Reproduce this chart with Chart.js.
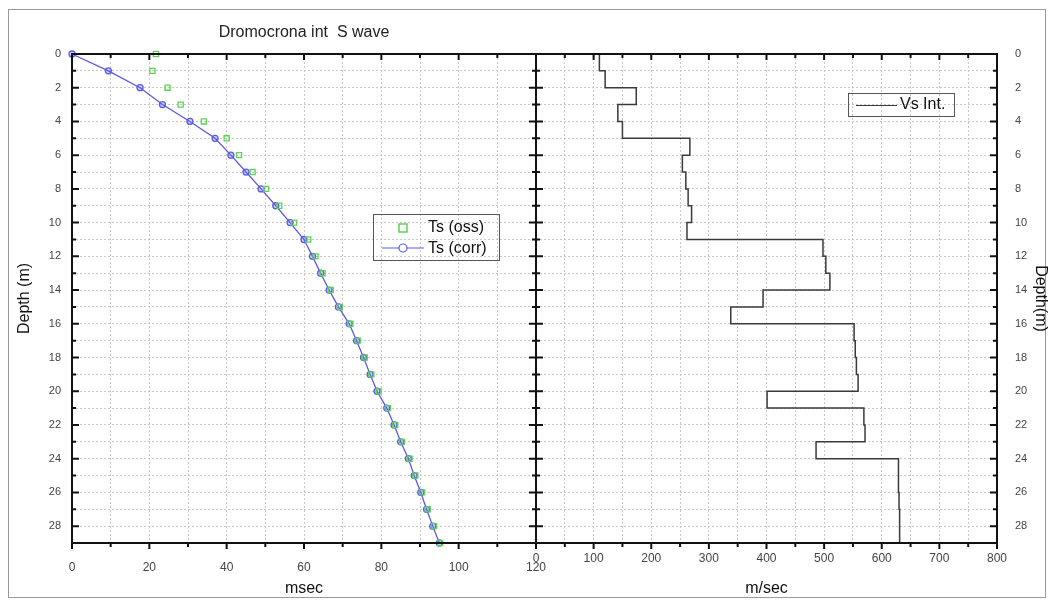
<!DOCTYPE html>
<html>
<head>
<meta charset="utf-8">
<script src="https://cdn.jsdelivr.net/npm/chart.js@4"></script>
<style>
  html, body { margin: 0; padding: 0; background: #fff; }
  #wrap { position: relative; width: 1054px; height: 608px; }
</style>
</head>
<body>
<div id="wrap"><canvas id="dromo" width="1054" height="608"></canvas></div>
<script>
// depth of each reading (m)
const depths = [0,1,2,3,4,5,6,7,8,9,10,11,12,13,14,15,16,17,18,19,20,21,22,23,24,25,26,27,28,29];
// observed S travel time (msec)
const tsOss = [21.7,20.8,24.7,28.1,34.1,40.0,43.2,46.7,50.2,53.6,57.4,61.1,63.0,64.8,66.9,69.3,72.0,73.9,75.7,77.4,79.3,81.7,83.6,85.3,87.3,88.8,90.5,92.0,93.6,95.2];
// corrected S travel time (msec)
const tsCorr = [0,9.4,17.6,23.4,30.5,37.0,41.1,45.0,48.9,52.7,56.4,60.0,62.2,64.3,66.5,68.9,71.7,73.6,75.4,77.1,78.9,81.4,83.3,85.0,87.0,88.5,90.2,91.7,93.3,95.0];
// interval velocity, one value per 1 m layer (m/sec)
const layerTops = [0,1,2,3,4,5,6,7,8,9,10,11,12,13,14,15,16,17,18,19,20,21,22,23,24,25,26,27,28];
const vsInt = [110,120,174,142,150,267,254,260,264,270,262,498,503,510,394,338,552,554,556,559,401,569,571,486,629,629,630,631,631];
const bottomDepth = 29;

const titleText = 'Dromocrona int  S wave';
const FONT = "'Liberation Sans', Arial, sans-serif";
Chart.defaults.font.family = FONT;

const vsPoints = layerTops.map((d, i) => ({x: vsInt[i], y: d}));
vsPoints.push({x: vsInt[vsInt.length - 1], y: bottomDepth});

// frames, inward ticks, title and the two legends
const frames = {
  id: 'frames',
  beforeDraw(chart) {
    const ctx = chart.ctx;
    ctx.save();
    ctx.strokeStyle = '#9a9a9a';
    ctx.lineWidth = 1;
    ctx.strokeRect(8.5, 9.5, 1037, 588);
    ctx.restore();
  },
  afterDraw(chart) {
    const {ctx, chartArea: a, scales: {x1, x2, y}} = chart;
    ctx.save();
    ctx.strokeStyle = '#111';
    ctx.lineWidth = 2;
    ctx.beginPath();
    y.ticks.forEach(t => {
      const py = y.getPixelForValue(t.value);
      const len = t.value % 2 === 0 ? 7 : 4;
      ctx.moveTo(x1.left, py); ctx.lineTo(x1.left + len, py);
      ctx.moveTo(x1.right - len, py); ctx.lineTo(x1.right + len, py);
      ctx.moveTo(x2.right - len, py); ctx.lineTo(x2.right, py);
    });
    [[x1, 20], [x2, 100]].forEach(([sc, major]) => {
      sc.ticks.forEach(t => {
        const px = sc.getPixelForValue(t.value);
        const len = t.value % major === 0 ? 6 : 4;
        ctx.moveTo(px, a.top); ctx.lineTo(px, a.top + len);
        ctx.moveTo(px, a.bottom); ctx.lineTo(px, a.bottom + len);
      });
    });
    ctx.stroke();
    ctx.strokeRect(x1.left, a.top, x1.right - x1.left, a.bottom - a.top);
    ctx.strokeRect(x2.left, a.top, x2.right - x2.left, a.bottom - a.top);

    // title over the left panel
    ctx.fillStyle = '#222';
    ctx.font = '16px ' + FONT;
    ctx.textAlign = 'center';
    ctx.textBaseline = 'middle';
    ctx.fillText(titleText, (x1.left + x1.right) / 2, 33);

    // left legend
    const ds = chart.data.datasets;
    ctx.textAlign = 'left';
    ctx.lineWidth = 1;
    ctx.strokeStyle = '#555';
    ctx.strokeRect(373.5, 214.5, 126, 46);
    ctx.strokeStyle = ds[0].borderColor;
    ctx.lineWidth = 1.5;
    ctx.strokeRect(399, 224, 8, 8);
    ctx.fillStyle = '#111';
    ctx.fillText(ds[0].label, 428, 228);
    ctx.strokeStyle = ds[1].borderColor;
    ctx.lineWidth = 1.2;
    ctx.beginPath();
    ctx.moveTo(382, 248); ctx.lineTo(424, 248);
    ctx.stroke();
    ctx.beginPath();
    ctx.arc(403, 248, 4, 0, Math.PI * 2);
    ctx.fillStyle = '#fff';
    ctx.fill();
    ctx.stroke();
    ctx.fillStyle = '#111';
    ctx.fillText(ds[1].label, 428, 249);

    // right legend
    ctx.strokeStyle = '#555';
    ctx.lineWidth = 1;
    ctx.strokeRect(848.5, 93.5, 106, 23);
    ctx.strokeStyle = ds[2].borderColor;
    ctx.beginPath();
    ctx.moveTo(856, 105.5); ctx.lineTo(897, 105.5);
    ctx.stroke();
    ctx.fillText(ds[2].label, 900, 105);
    ctx.restore();
  }
};

const gridOpts = { color: '#c8c8c8', drawTicks: false };
const borderOpts = { display: false, dash: [2, 2] };

new Chart(document.getElementById('dromo'), {
  type: 'line',
  data: {
    datasets: [
      {
        label: 'Ts (oss)',
        data: tsOss.map((t, i) => ({x: t, y: depths[i]})),
        xAxisID: 'x1', yAxisID: 'y',
        showLine: false,
        borderColor: '#5cd352',
        backgroundColor: 'rgba(0,0,0,0)',
        pointStyle: 'rect',
        pointRadius: 3.6,
        pointBorderWidth: 1.3,
        clip: false
      },
      {
        label: 'Ts (corr)',
        data: tsCorr.map((t, i) => ({x: t, y: depths[i]})),
        xAxisID: 'x1', yAxisID: 'y',
        borderColor: '#5a5ae6',
        backgroundColor: 'rgba(90,90,230,0.25)',
        borderWidth: 1.3,
        pointStyle: 'circle',
        pointRadius: 3,
        pointBorderWidth: 1.3,
        tension: 0,
        clip: false
      },
      {
        label: 'Vs Int.',
        data: vsPoints,
        xAxisID: 'x2', yAxisID: 'y',
        borderColor: '#3a3a3a',
        borderWidth: 1.5,
        pointRadius: 0,
        stepped: 'after',
        fill: false
      }
    ]
  },
  options: {
    responsive: false,
    animation: false,
    layout: { padding: { top: 54, left: 0, right: 0, bottom: 10 } },
    plugins: {
      legend: { display: false },
      tooltip: { enabled: false },
      title: { display: false }
    },
    scales: {
      x1: {
        type: 'linear', position: 'bottom', stack: 'panels', stackWeight: 464,
        min: 0, max: 120,
        ticks: { stepSize: 10, autoSkip: false, maxRotation: 0, padding: 17, color: '#444', font: {size: 12},
          callback: v => v % 20 === 0 ? v : '' },
        grid: gridOpts,
        border: borderOpts,
        title: { display: true, text: 'msec', color: '#111', font: {size: 16}, padding: {top: 0, bottom: 0} },
        afterFit: s => { s.height = 55; }
      },
      x2: {
        type: 'linear', position: 'bottom', stack: 'panels', stackWeight: 461,
        min: 0, max: 800,
        ticks: { stepSize: 50, autoSkip: false, maxRotation: 0, padding: 8, color: '#444', font: {size: 12},
          callback: v => v % 100 === 0 ? v : '' },
        grid: gridOpts,
        border: borderOpts,
        title: { display: true, text: 'm/sec', color: '#111', font: {size: 16}, padding: {top: 0, bottom: 0} },
        afterFit: s => { s.height = 55; }
      },
      y: {
        type: 'linear', position: 'left', reverse: true, min: 0, max: 29,
        ticks: { stepSize: 1, autoSkip: false, padding: 11, color: '#444', font: {size: 11},
          callback: v => v % 2 === 0 ? v : '' },
        grid: gridOpts,
        border: borderOpts,
        title: { display: true, text: 'Depth (m)', color: '#111', font: {size: 16}, padding: {top: 15, bottom: 0} },
        afterFit: s => { s.width = 72; }
      },
      y2: {
        type: 'linear', position: 'right', reverse: true, min: 0, max: 29,
        ticks: { stepSize: 1, autoSkip: false, padding: 10, color: '#444', font: {size: 11},
          callback: v => v % 2 === 0 ? v : '' },
        grid: { display: false },
        border: { display: false },
        title: { display: true, text: 'Depth(m)', color: '#111', font: {size: 16}, padding: {top: 4, bottom: 0} },
        afterFit: s => { s.width = 57; }
      }
    }
  },
  plugins: [frames]
});
</script>
</body>
</html>
